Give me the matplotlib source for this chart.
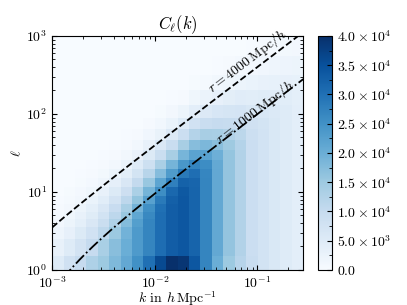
import numpy as np
import matplotlib
matplotlib.use("Agg")
import matplotlib.pyplot as plt
from matplotlib.ticker import FuncFormatter, MultipleLocator

plt.rcParams.update({
    "font.family": "serif",
    "font.serif": ["cmr10"],
    "mathtext.fontset": "cm",
    "axes.formatter.use_mathtext": True,
    "font.size": 10,
    "xtick.direction": "in",
    "ytick.direction": "in",
    "xtick.top": True,
    "ytick.right": True,
})

# k grid (h/Mpc), log-spaced cells
k_min, k_max = 1e-3, 0.28
n_k = 22

# multipole cell edges
ell_edges = [1, 1.5, 2.5, 3.5, 4.5, 5.5, 7, 9, 11.5, 15, 19.5, 26, 35, 47, 65,
             90, 130, 200, 320, 550, 1000]

# C_ell(k), in units of 1e3, one row per ell cell
cl_rows = [
    [5, 8, 10, 13, 15, 18, 21, 25, 30, 36, 40, 39, 34, 27, 20, 15, 12, 9.5, 7.5, 6, 5, 4],
    [3.0, 5.0, 7.4, 10.1, 13.6, 17.1, 20, 23.5, 27, 30.5, 33, 34, 32, 27, 21, 16, 12.5, 9, 7.5, 6, 5, 4],
    [1.8, 3.4, 5.4, 7.8, 11.0, 15.2, 19.3, 23.5, 27, 30.5, 33, 34, 32, 27, 21, 16, 12.5, 9, 7.5, 6, 5, 4],
    [1.1, 2.3, 3.9, 6.1, 9.1, 12.9, 17.5, 22.7, 27, 30.5, 33, 34, 32, 27, 21, 16, 12.5, 9, 7.5, 6, 5, 4],
    [0.7, 1.6, 3.0, 4.8, 7.5, 11.1, 15.4, 21.3, 26.3, 30.5, 33, 34, 32, 27, 21, 16, 12.5, 9, 7.5, 6, 5, 4],
    [0.5, 1.1, 2.2, 3.8, 6.2, 9.6, 13.7, 19.2, 25.2, 30.1, 33, 34, 32, 27, 21, 16, 12.5, 9, 7.5, 6, 5, 4],
    [0.2, 0.7, 1.4, 2.6, 4.5, 7.4, 11.1, 16.2, 22.3, 28.7, 32.6, 34, 32, 27, 21, 16, 12.5, 9, 7.5, 6, 5, 4],
    [0.1, 0.4, 0.8, 1.6, 3.1, 5.4, 8.7, 13.4, 19.0, 25.6, 31.3, 33.7, 32, 27, 21, 16, 12.5, 9, 7.5, 6, 5, 4],
    [0, 0.1, 0.4, 0.9, 1.9, 3.7, 6.2, 10.3, 15.5, 21.6, 27.8, 32.3, 31.8, 27, 21, 16, 12.5, 9, 7.5, 6, 5, 4],
    [0, 0, 0.2, 0.5, 1.0, 2.2, 4.2, 7.3, 11.8, 17.4, 23.3, 28.6, 30.4, 26.8, 21, 16, 12.5, 9, 7.5, 6, 5, 4],
    [0, 0, 0, 0.2, 0.5, 1.2, 2.6, 5.0, 8.5, 13.5, 19.0, 24.2, 27.1, 25.7, 20.9, 16, 12.5, 9, 7.5, 6, 5, 4],
    [0, 0, 0, 0, 0.2, 0.5, 1.3, 2.7, 5.4, 9.1, 13.8, 18.8, 22.0, 22.2, 19.7, 15.8, 12.5, 9, 7.5, 6, 5, 4],
    [0, 0, 0, 0, 0, 0.2, 0.6, 1.4, 3.0, 5.8, 9.5, 13.8, 17.3, 18.3, 17.0, 14.9, 12.3, 9, 7.5, 6, 5, 4],
    [0, 0, 0, 0, 0, 0, 0.2, 0.5, 1.5, 2.9, 5.6, 9.0, 12.2, 13.8, 13.6, 12.5, 11.4, 8.8, 7.5, 6, 5, 4],
    [0, 0, 0, 0, 0, 0, 0, 0.1, 0.5, 1.4, 2.6, 5.1, 7.7, 9.5, 10.1, 9.8, 9.4, 8.0, 7.3, 6, 5, 4],
    [0, 0, 0, 0, 0, 0, 0, 0, 0, 0.4, 1.1, 2.3, 4.0, 5.6, 6.5, 6.9, 7.1, 6.3, 6.3, 5.7, 5.0, 4],
    [0, 0, 0, 0, 0, 0, 0, 0, 0, 0, 0.3, 0.6, 1.6, 2.4, 3.4, 4.1, 4.6, 4.5, 4.7, 4.6, 4.5, 3.9],
    [0, 0, 0, 0, 0, 0, 0, 0, 0, 0, 0, 0, 0.4, 0.7, 1.3, 1.7, 2.3, 2.6, 3.0, 3.2, 3.4, 3.2],
    [0, 0, 0, 0, 0, 0, 0, 0, 0, 0, 0, 0, 0, 0, 0.3, 0.5, 0.8, 1.1, 1.5, 1.8, 2.1, 2.2],
    [0, 0, 0, 0, 0, 0, 0, 0, 0, 0, 0, 0, 0, 0, 0, 0, 0.1, 0.3, 0.5, 0.7, 1.0, 1.2],
]

# comoving distances of the two reference lines (Mpc/h)
r_dashed = 4000
r_dashdot = 1000

cbar_ticks = np.arange(0, 4.01e4, 5e3)


def sci_label(value, pos=None):
    if value == 0:
        return r"$0.0$"
    exp = int(np.floor(np.log10(value)))
    mant = value / 10**exp
    return rf"${mant:.1f} \times 10^{{{exp}}}$"


def limber_ell(k, r):
    # ell + 1/2 = k r
    return k * r - 0.5


fig = plt.figure(figsize=(4.07, 3.05), dpi=100)
ax = fig.add_axes([0.128, 0.115, 0.617, 0.767])
cax = fig.add_axes([0.781, 0.115, 0.034, 0.767])

k_edges = np.logspace(np.log10(k_min), np.log10(k_max), n_k + 1)
values = np.array(cl_rows) * 1e3
mesh = ax.pcolormesh(k_edges, ell_edges, values, cmap="Blues", vmin=0, vmax=4e4, shading="flat")

ax.set_xscale("log")
ax.set_yscale("log")
ax.set_xlim(k_min, k_max)
ax.set_ylim(1, 1000)

k_line = np.logspace(np.log10(k_min), np.log10(k_max), 400)
ax.plot(k_line, limber_ell(k_line, r_dashed), color="black", linestyle="--", linewidth=1.3)
ax.plot(k_line, limber_ell(k_line, r_dashdot), color="black", linestyle="-.", linewidth=1.3)


def line_angle(r):
    p1 = ax.transData.transform((0.05, limber_ell(0.05, r)))
    p2 = ax.transData.transform((0.2, limber_ell(0.2, r)))
    return np.degrees(np.arctan2(p2[1] - p1[1], p2[0] - p1[0]))


k_txt = 0.09
ax.text(k_txt, limber_ell(k_txt, r_dashed) * 1.06, r"$r = 4000\,\mathrm{Mpc}/h$",
        ha="center", va="bottom", rotation=line_angle(r_dashed), rotation_mode="anchor")
k_txt = 0.1
ax.text(k_txt, limber_ell(k_txt, r_dashdot) * 0.98, r"$r = 1000\,\mathrm{Mpc}/h$",
        ha="center", va="baseline", rotation=line_angle(r_dashdot), rotation_mode="anchor")

ax.set_title(r"$C_\ell(k)$", pad=4)
ax.set_xlabel(r"$k$ in $h\,\mathrm{Mpc}^{-1}$", labelpad=-0.5)
ax.set_ylabel(r"$\ell$", labelpad=2)
ax.tick_params(which="both", direction="in", top=True, right=True)

cbar = fig.colorbar(mesh, cax=cax, ticks=cbar_ticks)
cbar.ax.yaxis.set_major_formatter(FuncFormatter(sci_label))
cbar.ax.yaxis.set_minor_locator(MultipleLocator(2500))
cbar.ax.tick_params(which="both", direction="in")

fig.savefig("out.png", dpi=100)
